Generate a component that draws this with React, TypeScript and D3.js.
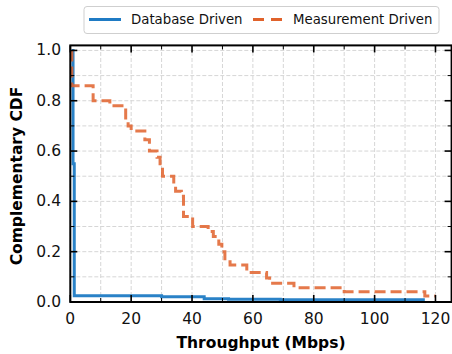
import React from 'react';
import * as d3 from 'd3';

// Database driven CCDF (step points)
const dbThroughput = [0.5, 0.9, 1.3, 30, 44, 52, 69, 116.5];
const dbCcdf = [1.0, 0.55, 0.025, 0.021, 0.013, 0.011, 0.009, 0.009];

// Measurement driven CCDF (step points)
const mdThroughput = [0.5, 0.5, 7.5, 13, 17.5, 18.2, 19, 20, 24.5, 26, 28.5, 29.5, 30.3, 34, 34.6, 36.5, 37.2, 40.2, 45.3, 47, 48.8, 49.8, 50.8, 52.5, 58, 64.5, 65.5, 73.5, 90, 116.5, 120];
const mdCcdf = [1.0, 0.86, 0.8, 0.78, 0.77, 0.72, 0.7, 0.68, 0.645, 0.6, 0.575, 0.55, 0.5, 0.47, 0.44, 0.42, 0.34, 0.3, 0.28, 0.26, 0.23, 0.2, 0.16, 0.147, 0.117, 0.095, 0.075, 0.057, 0.041, 0.024, 0.024];

const xTickValues = [0, 20, 40, 60, 80, 100, 120];
const yTickValues = [0, 0.2, 0.4, 0.6, 0.8, 1.0];
const xMinorValues = [10, 30, 50, 70, 90, 110];
const yMinorValues = [0.1, 0.3, 0.5, 0.7, 0.9];

const seriesNames = ['Database Driven', 'Measurement Driven'];

const BLUE = '#1f7bc4';
const ORANGE = '#e0622b';
const FONT = '"DejaVu Sans", sans-serif';

export default function App() {
  const width = 452;
  const height = 354;

  const x = d3.scaleLinear().domain([0, 125.3]).range([70.3, 451.6]);
  const y = d3.scaleLinear().domain([0, 1.02]).range([302, 45.4]);

  const line = d3.line<[number, number]>()
    .x(d => x(d[0]))
    .y(d => y(d[1]))
    .curve(d3.curveStepAfter);

  const dbPath = line(dbThroughput.map((t, i) => [t, dbCcdf[i]]) as [number, number][]) || '';
  const mdPath = line(mdThroughput.map((t, i) => [t, mdCcdf[i]]) as [number, number][]) || '';

  const [x0, x1] = x.range();
  const [y0, y1] = y.range();

  return (
    <svg width={width} height={height} style={{ position: 'absolute', left: 0, top: 0, background: '#fff' }}>
      {/* grid */}
      {[...xTickValues, ...xMinorValues].map((t, i) => (
        <line key={'gx' + i} x1={x(t)} x2={x(t)} y1={y0} y2={y1} stroke="#d6d6d6" strokeWidth={1} strokeDasharray="4 2" />
      ))}
      {[...yTickValues, ...yMinorValues].map((t, i) => (
        <line key={'gy' + i} x1={x0} x2={x1} y1={y(t)} y2={y(t)} stroke="#d6d6d6" strokeWidth={1} strokeDasharray="4 2" />
      ))}

      {/* lines */}
      <path d={dbPath} fill="none" stroke={BLUE} strokeWidth={3} opacity={0.95} />
      <path d={mdPath} fill="none" stroke={ORANGE} strokeWidth={3} strokeDasharray="11 5" opacity={0.85} />

      {/* ticks, inward on all sides */}
      {xTickValues.map((t, i) => (
        <g key={'xt' + i}>
          <line x1={x(t)} x2={x(t)} y1={y0} y2={y0 - 7} stroke="#000" strokeWidth={1.6} />
          <line x1={x(t)} x2={x(t)} y1={y1} y2={y1 + 7} stroke="#000" strokeWidth={1.6} />
          <text x={x(t)} y={319} textAnchor="middle" dominantBaseline="central" fontFamily={FONT} fontSize={15.5} fill="#111">
            {t}
          </text>
        </g>
      ))}
      {xMinorValues.map((t, i) => (
        <g key={'xm' + i}>
          <line x1={x(t)} x2={x(t)} y1={y0} y2={y0 - 4} stroke="#000" strokeWidth={1} />
          <line x1={x(t)} x2={x(t)} y1={y1} y2={y1 + 4} stroke="#000" strokeWidth={1} />
        </g>
      ))}
      {yTickValues.map((t, i) => (
        <g key={'yt' + i}>
          <line x1={x0} x2={x0 + 7} y1={y(t)} y2={y(t)} stroke="#000" strokeWidth={1.6} />
          <line x1={x1} x2={x1 - 7} y1={y(t)} y2={y(t)} stroke="#000" strokeWidth={1.6} />
          <text x={61} y={y(t)} textAnchor="end" dominantBaseline="central" fontFamily={FONT} fontSize={15.5} fill="#111">
            {t.toFixed(1)}
          </text>
        </g>
      ))}
      {yMinorValues.map((t, i) => (
        <g key={'ym' + i}>
          <line x1={x0} x2={x0 + 4} y1={y(t)} y2={y(t)} stroke="#000" strokeWidth={1} />
          <line x1={x1} x2={x1 - 4} y1={y(t)} y2={y(t)} stroke="#000" strokeWidth={1} />
        </g>
      ))}

      {/* frame */}
      <rect x={x0} y={y1} width={x1 - x0} height={y0 - y1} fill="none" stroke="#000" strokeWidth={2} />

      {/* axis titles */}
      <text x={261} y={343} textAnchor="middle" dominantBaseline="central" fontFamily={FONT} fontSize={15.5} fontWeight="bold" fill="#000">
        Throughput (Mbps)
      </text>
      <text
        x={17}
        y={176}
        textAnchor="middle"
        dominantBaseline="central"
        fontFamily={FONT}
        fontSize={15.5}
        fontWeight="bold"
        fill="#000"
        transform="rotate(-90, 17, 176)"
      >
        Complementary CDF
      </text>

      {/* legend */}
      <g>
        <rect x={84} y={6.5} width={355} height={27} rx={3} fill="#fff" fillOpacity={0.9} stroke="#cfcfcf" strokeWidth={1} />
        <line x1={89} x2={121} y1={19.5} y2={19.5} stroke={BLUE} strokeWidth={3} />
        <text x={131} y={19.5} dominantBaseline="central" fontFamily={FONT} fontSize={13.3} fill="#111">
          {seriesNames[0]}
        </text>
        <line x1={253} x2={282} y1={19.5} y2={19.5} stroke={ORANGE} strokeWidth={3} strokeDasharray="11 7" />
        <text x={293} y={19.5} dominantBaseline="central" fontFamily={FONT} fontSize={13.3} fill="#111">
          {seriesNames[1]}
        </text>
      </g>
    </svg>
  );
}
